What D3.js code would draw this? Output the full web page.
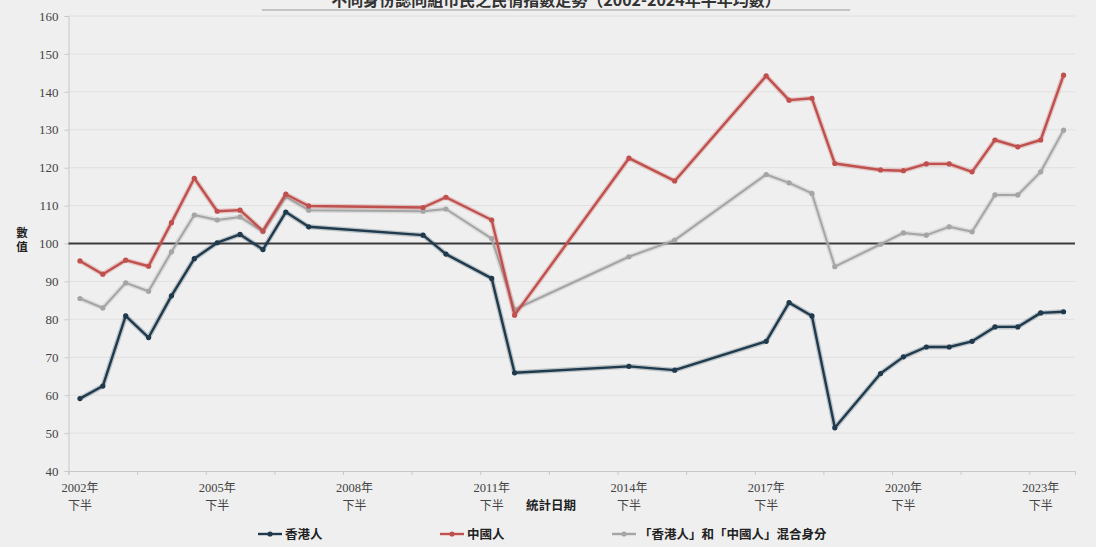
<!DOCTYPE html>
<html>
<head>
<meta charset="utf-8">
<script src="https://cdn.jsdelivr.net/npm/d3@7"></script>
<style>
  body { margin: 0; background: #efefef; }
  svg { display: block; }
</style>
</head>
<body>
<svg id="chart"></svg>
<script>
// half-year periods, "YYYY-1" = 上半, "YYYY-2" = 下半
const periods = [
  "2002-2","2003-1","2003-2","2004-1","2004-2","2005-1","2005-2","2006-1","2006-2","2007-1","2007-2",
  "2010-1","2010-2","2011-2","2012-1",
  "2014-2","2015-2",
  "2017-2","2018-1","2018-2","2019-1",
  "2020-1","2020-2","2021-1","2021-2","2022-1","2022-2","2023-1","2023-2","2024-1"
];
const hongKong = [
  59.1, 62.4, 80.9, 75.2, 86.2, 96.0, 100.2, 102.4, 98.4, 108.3, 104.4,
  102.2, 97.2, 90.8, 65.9,
  67.6, 66.6,
  74.2, 84.4, 80.9, 51.4,
  65.7, 70.1, 72.7, 72.7, 74.2, 78.0, 78.0, 81.7, 82.0
];
const chinese = [
  95.4, 91.9, 95.6, 94.0, 105.5, 117.2, 108.5, 108.8, 103.3, 113.0, 109.9,
  109.5, 112.2, 106.2, 81.1,
  122.5, 116.5,
  144.2, 137.8, 138.3, 121.1,
  119.4, 119.2, 121.0, 121.0, 118.9, 127.3, 125.5, 127.3, 144.4
];
const mixed = [
  85.5, 83.0, 89.6, 87.4, 97.8, 107.5, 106.2, 107.0, 103.1, 112.3, 108.8,
  108.5, 109.1, 101.3, 82.6,
  96.5, 100.9,
  118.2, 116.0, 113.2, 93.9,
  99.8, 102.8, 102.2, 104.4, 103.1, 112.8, 112.8, 118.9, 129.9
];
const seriesNames = ["香港人", "中國人", "「香港人」和「中國人」混合身分"];
const seriesColors = ["#1f3a4d", "#c0504d", "#a5a5a5"];
const yTicks = [40, 50, 60, 70, 80, 90, 100, 110, 120, 130, 140, 150, 160];
const xLabelYears = [2002, 2005, 2008, 2011, 2014, 2017, 2020, 2023];
const title = "不同身份認同組市民之民情指數走勢（2002-2024年半年均數）";

const W = 1096, H = 547;
const svg = d3.select("#chart").attr("width", W).attr("height", H);
const numFont = "'Liberation Serif', 'Times New Roman', serif";
const cjkFont = "'Noto Sans CJK TC', 'Noto Sans CJK SC', sans-serif";

// half-year index from 2002 下半
const idx = p => { const [y, h] = p.split("-").map(Number); return (y - 2002) * 2 + (h - 2); };

const x = d3.scaleLinear().domain([-0.5, 43.5]).range([68.5, 1075]);
const y = d3.scaleLinear().domain([40, 160]).range([471, 16]);

// title (top cut off like the source)
svg.append("text")
  .attr("x", 556).attr("y", 6)
  .attr("text-anchor", "middle")
  .style("font-family", cjkFont).style("font-size", "16px").style("font-weight", "bold")
  .attr("fill", "#333")
  .text(title);
svg.append("line").attr("x1", 262).attr("x2", 850).attr("y1", 10).attr("y2", 10)
  .attr("stroke", "#9a9a9a").attr("stroke-width", 1.2);

// gridlines
svg.append("g").selectAll("line").data(yTicks.filter(d => d !== 40)).join("line")
  .attr("x1", x(-0.5)).attr("x2", x(43.5))
  .attr("y1", d => y(d)).attr("y2", d => y(d))
  .attr("stroke", "#e0e0e0").attr("stroke-width", 1);

// y axis
const yAxis = svg.append("g").attr("transform", `translate(${x(-0.5)},0)`)
  .call(d3.axisLeft(y).tickValues(yTicks).tickSize(4).tickPadding(6));
yAxis.select(".domain").attr("stroke", "#c8c8c8");
yAxis.selectAll(".tick line").attr("stroke", "#c8c8c8");
yAxis.selectAll(".tick text").style("font-family", numFont).style("font-size", "13px").attr("fill", "#444");

// y label, stacked vertically
svg.append("g").selectAll("text").data(["數", "值"]).join("text")
  .attr("x", 22).attr("y", (d, i) => 237 + i * 14)
  .attr("text-anchor", "middle")
  .style("font-family", cjkFont).style("font-size", "11.5px").style("font-weight", "bold")
  .attr("fill", "#222").text(d => d);

// x axis
const xAxis = svg.append("g").attr("transform", `translate(0,${y(40)})`)
  .call(d3.axisBottom(x).tickValues(d3.range(-0.5, 44, 3)).tickSize(4).tickFormat(""));
xAxis.select(".domain").attr("stroke", "#c8c8c8");
xAxis.selectAll(".tick line").attr("stroke", "#c8c8c8");

const xl = svg.append("g").selectAll("g").data(xLabelYears).join("g")
  .attr("transform", d => `translate(${x(idx(d + "-2"))},0)`);
xl.append("text").attr("y", 492).attr("text-anchor", "middle")
  .style("font-family", numFont).style("font-size", "12.5px").attr("fill", "#444")
  .text(d => d)
  .append("tspan").style("font-family", cjkFont).style("font-size", "12px").text("年");
xl.append("text").attr("y", 510).attr("text-anchor", "middle")
  .style("font-family", cjkFont).style("font-size", "12px").attr("fill", "#444")
  .text("下半");

svg.append("text").attr("x", 526).attr("y", 510)
  .style("font-family", cjkFont).style("font-size", "12.5px").style("font-weight", "bold")
  .attr("fill", "#222").text("統計日期");

// 100 reference line
svg.append("line").attr("x1", x(-0.5)).attr("x2", x(43.5))
  .attr("y1", y(100)).attr("y2", y(100))
  .attr("stroke", "#3a3a3a").attr("stroke-width", 2);

// series
const allSeries = [hongKong, chinese, mixed];
const line = d3.line().x(d => x(d.i)).y(d => y(d.v));
const order = [2, 1, 0];
order.forEach(s => {
  const pts = periods.map((p, k) => ({ i: idx(p), v: allSeries[s][k] }));
  const g = svg.append("g");
  g.append("path").datum(pts).attr("d", line)
    .attr("fill", "none").attr("stroke", seriesColors[s]).attr("stroke-opacity", 0.25)
    .attr("stroke-width", 5).attr("stroke-linejoin", "round");
  g.append("path").datum(pts).attr("d", line)
    .attr("fill", "none").attr("stroke", seriesColors[s])
    .attr("stroke-width", s === 2 ? 2 : 2.4).attr("stroke-linejoin", "round");
  g.selectAll("circle").data(pts).join("circle")
    .attr("cx", d => x(d.i)).attr("cy", d => y(d.v)).attr("r", 2.6)
    .attr("fill", seriesColors[s]);
});

// legend
const legendX = [258, 440, 612];
const lg = svg.append("g").selectAll("g").data(seriesNames).join("g")
  .attr("transform", (d, i) => `translate(${legendX[i]},534)`);
lg.append("line").attr("x1", 0).attr("x2", 24)
  .attr("stroke", (d, i) => seriesColors[i]).attr("stroke-width", 2.4);
lg.append("circle").attr("cx", 12).attr("r", 2.6).attr("fill", (d, i) => seriesColors[i]);
lg.append("text").attr("x", 27).attr("y", 4.5)
  .style("font-family", cjkFont).style("font-size", "12.5px").style("font-weight", "bold")
  .attr("fill", "#222").text(d => d);
</script>
</body>
</html>
